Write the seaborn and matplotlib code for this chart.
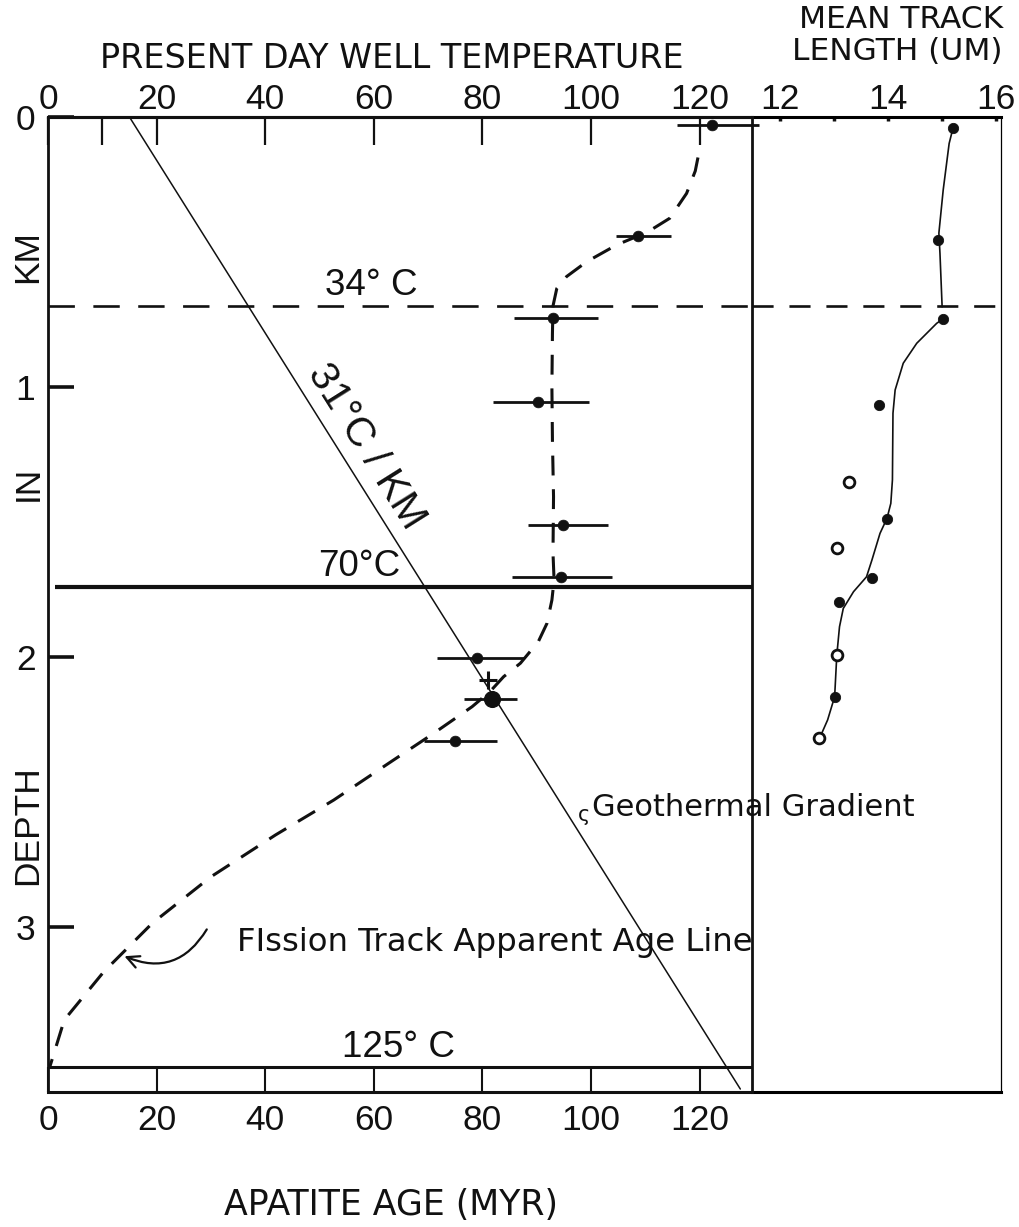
import numpy as np
import pandas as pd
import matplotlib
matplotlib.use("Agg")
import matplotlib.pyplot as plt
from matplotlib import font_manager as fm
import seaborn as sns

# ---- apatite fission-track ages (Myr) and error-bar limits by depth (km) ----
age_depth_km = [0.03, 0.44, 0.745, 1.055, 1.51, 1.705, 2.003, 2.155, 2.31]
age_myr = [122.2, 108.7, 93.0, 90.2, 94.9, 94.5, 79.0, 81.7, 75.0]
age_low_myr = [115.8, 104.6, 85.9, 81.9, 88.4, 85.4, 71.7, 76.7, 69.2]
age_high_myr = [131.0, 114.8, 101.3, 99.7, 103.1, 103.8, 87.7, 86.3, 82.7]

# sample shown with a cross only
cross_depth_km = [2.085]
cross_age_myr = [81.1]

# fission track apparent age line (hand-fitted)
curve_age_myr = [119.7, 119.2, 117.6, 114.5, 110.5, 104.7, 99.2, 95.5, 93.7, 93.0,
                 92.9, 92.8, 92.9, 93.1, 93.0, 93.2, 92.8, 91.9, 90.3, 87.0,
                 83.9, 81.4, 78.1, 71.0, 62.7, 52.6, 41.9, 30.0, 19.2, 10.3, 3.0, 0.3]
curve_depth_km = [0.15, 0.20, 0.283, 0.375, 0.425, 0.474, 0.536, 0.591, 0.635, 0.70,
                  0.80, 1.00, 1.20, 1.406, 1.615, 1.715, 1.789, 1.875, 1.943, 2.023,
                  2.073, 2.128, 2.184, 2.283, 2.394, 2.53, 2.659, 2.814, 2.986, 3.165, 3.344, 3.52]

# present day well temperature (deg C) along the geothermal gradient
geotherm_depth_km = [0.0, 3.60]
geotherm_temp_c = [15.0, 127.5]

# isotherms
isotherm_label = ["34° C", "70°C", "125° C"]
isotherm_depth_km = [0.70, 1.74, 3.52]

# ---- mean track length (um) ----
track_depth_km = [0.042, 0.456, 0.749, 1.067, 1.351, 1.49, 1.597, 1.706, 1.795, 1.993, 2.147, 2.301]
track_length_um = [15.20, 14.93, 15.01, 13.84, 13.27, 13.98, 13.05, 13.70, 13.09, 13.05, 13.01, 12.72]
track_filled = [True, True, True, True, False, True, False, True, True, False, True, False]

track_upper_len = [15.20, 15.13, 15.02, 14.94, 14.96, 15.00]
track_upper_depth = [0.042, 0.098, 0.27, 0.43, 0.505, 0.703]
track_lower_len = [15.01, 14.90, 14.53, 14.28, 14.13, 14.09, 14.08, 14.05, 13.98, 13.85,
                   13.70, 13.60, 13.36, 13.17, 13.10, 13.05, 13.01, 12.88, 12.77, 12.72]
track_lower_depth = [0.749, 0.764, 0.838, 0.912, 1.011, 1.097, 1.344, 1.431, 1.486, 1.542,
                     1.641, 1.703, 1.758, 1.82, 1.888, 1.993, 2.147, 2.233, 2.283, 2.301]

# ---- axis ticks ----
age_ticks = [0, 20, 40, 60, 80, 100, 120]
temp_ticks = [0, 20, 40, 60, 80, 100, 120]
temp_minor_ticks = [10]
depth_ticks = [0, 1, 2, 3]
length_ticks = [12, 13, 14, 15, 16]
length_tick_labels = ["12", "", "14", "", "16"]

sns.set_style("white")

# tall, narrow numerals where a narrow face is installed
installed = {f.name for f in fm.fontManager.ttflist}
if "Liberation Sans Narrow" in installed:
    NUM_FAMILY, NUM_SIZE = "Liberation Sans Narrow", 28
else:
    NUM_FAMILY, NUM_SIZE = "Liberation Sans", 25.5
WORD_FONT = ["DejaVu Sans"]
plt.rcParams["font.family"] = [NUM_FAMILY, "DejaVu Sans"]
plt.rcParams["axes.edgecolor"] = "black"

W, H = 1020, 1227
fig = plt.figure(figsize=(W / 100, H / 100), dpi=100)
fig.patch.set_facecolor("white")


def frac(x, y):
    """figure-pixel position (from top-left) to figure fraction"""
    return x / W, 1 - y / H


left, top, mid, right, bottom = 48, 117, 752, 1001, 1092
ax2 = fig.add_axes([mid / W, 1 - bottom / H, (right - mid) / W, (bottom - top) / H])
ax1 = fig.add_axes([left / W, 1 - bottom / H, (mid - left) / W, (bottom - top) / H])
ax1.patch.set_alpha(0)
ax2.patch.set_alpha(0)

depth_max = 3.611
ax1.set_xlim(0, 129.65)
ax1.set_ylim(depth_max, 0)
ax2.set_xlim(11.48, 16.09)
ax2.set_ylim(depth_max, 0)

ink = "#111111"

# ---------------- left panel ----------------
# isotherms
ax1.hlines(isotherm_depth_km[0], 0, 129.65, colors=ink, lw=1.9,
           linestyles=(0, (10, 7)), zorder=2)
ax1.hlines(isotherm_depth_km[1], 1.3, 129.65, colors=ink, lw=3.0, zorder=2)
ax1.hlines(isotherm_depth_km[2], 0, 129.65, colors=ink, lw=2.2, zorder=2)

# geothermal gradient
sns.lineplot(x=geotherm_temp_c, y=geotherm_depth_km, sort=False, estimator=None,
             ax=ax1, color=ink, lw=1.1, zorder=3)

# apparent age line
sns.lineplot(x=curve_age_myr, y=curve_depth_km, sort=False, estimator=None,
             ax=ax1, color=ink, lw=2.2, zorder=3)
ax1.lines[-1].set_dashes([6.5, 4.5])

# error bars and ages
ax1.hlines(age_depth_km, age_low_myr, age_high_myr, colors=ink, lw=2.0,
           zorder=4, clip_on=False)
sns.scatterplot(x=age_myr, y=age_depth_km, ax=ax1, color=ink, s=60,
                edgecolor=ink, linewidth=0.5, zorder=5)
sns.scatterplot(x=age_myr[7:8], y=age_depth_km[7:8], ax=ax1, color=ink, s=130,
                marker="o", edgecolor=ink, zorder=5)
sns.scatterplot(x=cross_age_myr, y=cross_depth_km, ax=ax1, color=ink, s=180,
                marker="+", linewidth=2.2, zorder=5)

# axes styling
for side, lw in (("left", 2.0), ("top", 2.2), ("right", 2.0), ("bottom", 2.2)):
    ax1.spines[side].set_linewidth(lw)
    ax1.spines[side].set_color(ink)
ax1.set_xticks(age_ticks)
ax1.set_yticks(depth_ticks)
ax1.tick_params(axis="x", which="both", direction="in", length=18, width=1.5,
                pad=9, labelsize=NUM_SIZE, top=False, bottom=True, colors=ink)
ax1.tick_params(axis="y", direction="in", length=19, width=2.6, pad=9,
                labelsize=NUM_SIZE, right=False, left=True, colors=ink)
ax1.set_xlabel("")
ax1.set_ylabel("")

secax = ax1.secondary_xaxis("top")
secax.set_xticks(temp_ticks)
secax.set_xticks(temp_minor_ticks, minor=True)
secax.tick_params(which="both", direction="in", length=20, width=1.6, pad=0.5,
                  labelsize=NUM_SIZE, colors=ink)
secax.spines["top"].set_linewidth(2.2)

# ---------------- right panel ----------------
ax2.hlines(isotherm_depth_km[0], 11.48, 16.09, colors=ink, lw=1.9,
           linestyles=(0, (8, 6)), zorder=2)
sns.lineplot(x=track_upper_len, y=track_upper_depth, sort=False, estimator=None,
             ax=ax2, color=ink, lw=1.2, zorder=3)
sns.lineplot(x=track_lower_len, y=track_lower_depth, sort=False, estimator=None,
             ax=ax2, color=ink, lw=1.2, zorder=3)

tracks = pd.DataFrame({"length": track_length_um, "depth": track_depth_km,
                       "filled": track_filled})
sns.scatterplot(data=tracks[tracks.filled], x="length", y="depth", ax=ax2,
                color=ink, edgecolor=ink, s=55, zorder=5)
sns.scatterplot(data=tracks[~tracks.filled], x="length", y="depth", ax=ax2,
                color="white", edgecolor=ink, linewidth=2.0, s=60, zorder=5)

ax2.spines["left"].set_visible(False)
ax2.spines["right"].set_linewidth(0.9)
ax2.spines["top"].set_linewidth(2.2)
ax2.spines["bottom"].set_linewidth(2.2)
ax2.set_yticks([])
ax2.set_xticks(length_ticks, length_tick_labels)
ax2.tick_params(axis="x", direction="in", length=3, width=2.5, pad=0.5,
                labelsize=NUM_SIZE, top=True, labeltop=True, bottom=False,
                labelbottom=False, colors=ink)
ax2.set_xlabel("")
ax2.set_ylabel("")

# ---------------- labels ----------------
fig.text(*frac(392, 58), "PRESENT DAY WELL TEMPERATURE", family=WORD_FONT,
         fontsize=24, ha="center", va="center", color=ink)
fig.text(*frac(1003, 20), "MEAN TRACK", family=WORD_FONT, fontsize=22.5,
         ha="right", va="center", color=ink)
fig.text(*frac(1003, 52), "LENGTH (UM)", family=WORD_FONT, fontsize=22.5,
         ha="right", va="center", color=ink)
fig.text(*frac(391, 1205), "APATITE AGE (MYR)", family=WORD_FONT, fontsize=25,
         ha="center", va="center", color=ink)

for txt, ypx in (("KM", 257), ("IN", 483), ("DEPTH", 825)):
    fig.text(*frac(28, ypx), txt, fontsize=NUM_SIZE, rotation=90, ha="center",
             va="center", color=ink)

label_x = [51.0, 49.7, 54.1]
for lab, d, x in zip(isotherm_label, isotherm_depth_km, label_x):
    ax1.annotate(lab, (x, d), xytext=(0, 2), textcoords="offset points",
                 fontsize=NUM_SIZE + 1, ha="left", va="bottom", color=ink)

# gradient label aligned with the line
p0 = ax1.transData.transform((geotherm_temp_c[0], geotherm_depth_km[0]))
p1 = ax1.transData.transform((geotherm_temp_c[1], geotherm_depth_km[1]))
angle = np.degrees(np.arctan2(p1[1] - p0[1], p1[0] - p0[0]))
fig.text(*frac(366, 446), "31°C / KM", fontsize=NUM_SIZE + 4, rotation=angle,
         rotation_mode="anchor", ha="center", va="center", color=ink)

fig.text(*frac(584, 815), "ς", family=WORD_FONT, fontsize=15, ha="center",
         va="center", color=ink)
fig.text(*frac(592, 807), "Geothermal Gradient", family=WORD_FONT, fontsize=22,
         ha="left", va="center", color=ink)
fig.text(*frac(237, 943), "FIssion Track Apparent Age Line", family=WORD_FONT,
         fontsize=23.3, ha="left", va="center", color=ink)
ax1.annotate("", xy=(13.6, 3.104), xytext=(29.5, 3.0),
             arrowprops=dict(arrowstyle="->", color=ink, lw=1.6,
                             connectionstyle="arc3,rad=-0.45",
                             mutation_scale=22))

fig.savefig("out.png", dpi=100, facecolor="white")
